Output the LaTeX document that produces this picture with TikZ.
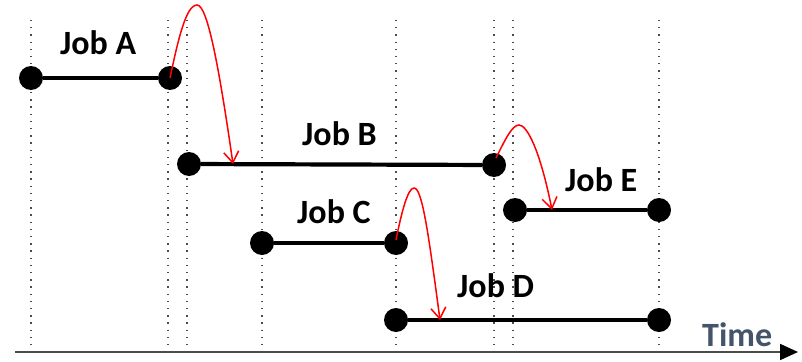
\documentclass[tikz,border=0pt]{standalone}
\usepackage{fontspec}
\setmainfont{Carlito}
\usetikzlibrary{arrows.meta}
\definecolor{slate}{RGB}{68,84,106}
\begin{document}
\begin{tikzpicture}[x=1pt,y=-1pt,
  dot/.style={circle,fill=black,inner sep=0pt,minimum size=24pt},
  jobline/.style={line width=4.2pt},
  guide/.style={line width=1.3pt,dash pattern=on 1.3pt off 5.9pt,black!70},
  lbl/.style={font=\fontsize{34}{34}\selectfont\bfseries,inner sep=0pt,anchor=base west},
  hop/.style={red,line width=1.5pt,-{Straight Barb[length=11pt,width=15pt,line width=1.5pt]}},
  axis/.style={line width=1.8pt,black!70,-{Triangle[length=18pt,width=16pt,color=black,fill=black]}}]
\useasboundingbox (0,0) rectangle (802,361);
% guides
\foreach \x in {31,168,187,262,396,494,513,659}
  \draw[guide] (\x,20) -- (\x,352);
% axis
\coordinate (ax0) at (15,352);
\coordinate (ax1) at (798,352);
\draw[axis] (ax0) -- (ax1);
\node[lbl,text=slate] (time) at (702,346.5) {Time};
% jobs
\node[dot] (a1) at (31,78) {};
\node[dot] (a2) at (170,78) {};
\node[dot] (b1) at (189,164) {};
\node[dot] (b2) at (494,165) {};
\node[dot] (e1) at (515,210) {};
\node[dot] (e2) at (659,210) {};
\node[dot] (c1) at (262,243) {};
\node[dot] (c2) at (396,243) {};
\node[dot] (d1) at (396,320) {};
\node[dot] (d2) at (659,320) {};
\draw[jobline] (a1) -- (a2);
\draw[jobline] (b1) -- (b2);
\draw[jobline] (e1) -- (e2);
\draw[jobline] (c1) -- (c2);
\draw[jobline] (d1) -- (d2);
\node[lbl] (la) at (60,55) {Job A};
\node[lbl] (lb) at (302,145) {Job B};
\node[lbl] (lc) at (297,223) {Job C};
\node[lbl] (ld) at (457,297) {Job D};
\node[lbl] (le) at (565,191) {Job E};
% hops
\coordinate (hb) at (233,164);
\coordinate (he) at (552,210);
\coordinate (hd) at (440,320);
\draw[hop] (a2.center) .. controls (178,40) and (186,5) .. (197,5)
  .. controls (207,5) and (218,60) .. (hb);
\draw[hop] (b2.center) ++(2,-7) .. controls (505,140) and (512,125) .. (519,125)
  .. controls (527,125) and (540,150) .. (he);
\draw[hop] (c2.center) ++(0,-3) .. controls (402,210) and (408,188) .. (414,188)
  .. controls (422,188) and (428,230) .. (hd);
\end{tikzpicture}
\end{document}
